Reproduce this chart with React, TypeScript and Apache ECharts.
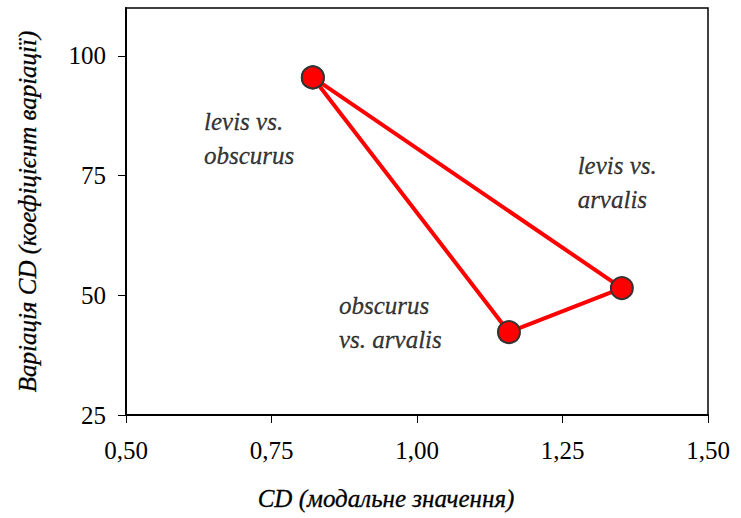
import React, { useEffect, useRef } from "react";
import * as echarts from "echarts";

// Data
const pairNames = ["levis vs. obscurus", "obscurus vs. arvalis", "levis vs. arvalis"];
const cdModal = [0.821, 1.158, 1.352];
const cdVariation = [95.5, 42.3, 51.5];

// Annotation texts and their anchor (top-left) in data coordinates
const annoTexts = ["levis vs.\nobscurus", "obscurus\nvs. arvalis", "levis vs.\narvalis"];
const annoX = [0.634, 0.866, 1.276];
const annoY = [89.9, 51.4, 80.7];

const xTicks = [0.5, 0.75, 1.0, 1.25, 1.5];
const yTicks = [25, 50, 75, 100];

const FONT = "Liberation Serif";

export default function App() {
  const ref = useRef<HTMLDivElement>(null);

  useEffect(() => {
    document.body.style.margin = "0";
    if (!ref.current) return;
    const chart = echarts.init(ref.current, null, { renderer: "svg" });

    const lineData = [0, 1, 2, 0].map((i) => [cdModal[i], cdVariation[i]]);
    const annoData = annoTexts.map((t, i) => ({ value: [annoX[i], annoY[i]], name: t }));

    chart.setOption({
      animation: false,
      backgroundColor: "#ffffff",
      textStyle: { fontFamily: FONT },
      grid: {
        left: 126,
        right: 33,
        top: 8,
        bottom: 103,
        show: true,
        borderColor: "#000",
        borderWidth: 1.5,
        outerBoundsMode: "none",
        containLabel: false,
      },
      xAxis: {
        type: "value",
        min: 0.5,
        max: 1.5,
        interval: 0.25,
        splitLine: { show: false },
        axisLine: { show: true, onZero: false, lineStyle: { color: "#000", width: 2 } },
        axisTick: { show: true, inside: false, length: 8, lineStyle: { color: "#000", width: 1 }, customValues: xTicks },
        axisLabel: {
          margin: 23,
          color: "#000",
          fontFamily: FONT,
          fontSize: 25,
          customValues: xTicks,
          formatter: (v: number) => v.toFixed(2).replace(".", ","),
        },
        name: "CD (модальне значення)",
        nameLocation: "middle",
        nameGap: 71,
        nameTextStyle: {
          color: "#000",
          fontFamily: FONT,
          fontSize: 25,
          fontStyle: "italic",
          textBorderColor: "#000",
          textBorderWidth: 0.3,
          padding: [0, 62, 0, 0],
        },
      },
      yAxis: {
        type: "value",
        min: 25,
        max: 110,
        interval: 25,
        splitLine: { show: false },
        axisLine: { show: true, onZero: false, lineStyle: { color: "#000", width: 2 } },
        axisTick: { show: true, inside: false, length: 8, lineStyle: { color: "#000", width: 1 }, customValues: yTicks },
        axisLabel: {
          margin: 20,
          color: "#000",
          fontFamily: FONT,
          fontSize: 25,
          customValues: yTicks,
        },
        name: "Варіація CD (коефіцієнт варіації)",
        nameLocation: "middle",
        nameGap: 86,
        nameTextStyle: {
          color: "#000",
          fontFamily: FONT,
          fontSize: 25,
          fontStyle: "italic",
          textBorderColor: "#000",
          textBorderWidth: 0.3,
        },
      },
      series: [
        {
          type: "line",
          name: "CD",
          data: lineData,
          symbol: "circle",
          symbolSize: 22,
          lineStyle: { color: "#ff0000", width: 4 },
          itemStyle: { color: "#ff0000", borderColor: "#333333", borderWidth: 2 },
          z: 3,
        },
        {
          type: "scatter",
          name: "labels",
          data: annoData,
          symbolSize: 0,
          silent: true,
          label: {
            show: true,
            position: [0, 0],
            align: "left",
            verticalAlign: "top",
            formatter: (p: any) => p.name,
            color: "#000",
            fontFamily: FONT,
            fontSize: 25,
            fontStyle: "italic",
            lineHeight: 34,
            textBorderColor: "#000",
            textBorderWidth: 0.3,
          },
          z: 2,
        },
      ],
    });

    return () => chart.dispose();
  }, []);

  return <div ref={ref} style={{ width: 741, height: 518 }} />;
}
